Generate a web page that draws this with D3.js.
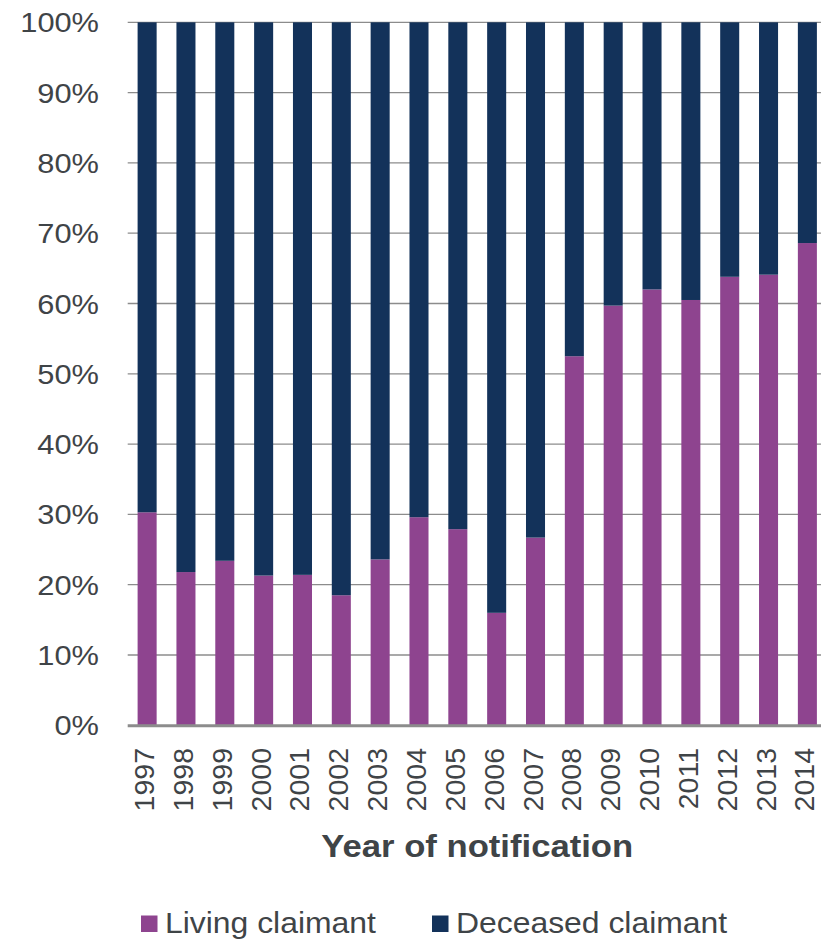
<!DOCTYPE html>
<html>
<head>
<meta charset="utf-8">
<script src="https://cdn.jsdelivr.net/npm/d3@7"></script>
<style>
  body { margin: 0; background: #fff; }
  svg { display: block; }
  text { font-family: "Liberation Sans", Arial, sans-serif; fill: #3f4447; }
</style>
</head>
<body>
<svg width="821" height="941"></svg>
<script>
// data (percent of claims)
var years = ['1997','1998','1999','2000','2001','2002','2003','2004','2005',
             '2006','2007','2008','2009','2010','2011','2012','2013','2014'];
var living = [30.3, 21.8, 23.4, 21.3, 21.4, 18.5, 23.6, 29.6, 27.9,
              16.0, 26.7, 52.5, 59.7, 62.0, 60.5, 63.8, 64.1, 68.6];
var deceased = [69.7, 78.2, 76.6, 78.7, 78.6, 81.5, 76.4, 70.4, 72.1,
                84.0, 73.3, 47.5, 40.3, 38.0, 39.5, 36.2, 35.9, 31.4];
var yTicks = [0, 10, 20, 30, 40, 50, 60, 70, 80, 90, 100];
var seriesNames = ['Living claimant', 'Deceased claimant'];
var colors = ['#8e448f', '#13325a'];

var stretch = 1.1; // text in the original is a bit wide

var svg = d3.select('svg');
var plotLeft = 127.7, plotRight = 826.8, plotTop = 22.3, plotBottom = 725.3;

var x = d3.scaleBand()
  .domain(years)
  .range([plotLeft, plotRight])
  .paddingInner(0.51)
  .paddingOuter(0.255);
var y = d3.scaleLinear().domain([0, 100]).range([plotBottom, plotTop]);

// gridlines
svg.append('g')
  .selectAll('line')
  .data(yTicks.filter(function(d){ return d > 0; }))
  .enter().append('line')
  .attr('x1', plotLeft).attr('x2', plotRight)
  .attr('y1', function(d){ return y(d); })
  .attr('y2', function(d){ return y(d); })
  .attr('stroke', '#8c8c8c')
  .attr('stroke-width', 1.3);

// y tick labels
svg.append('g')
  .selectAll('text')
  .data(yTicks)
  .enter().append('text')
  .attr('text-anchor', 'end')
  .attr('font-size', 28)
  .attr('transform', function(d){ return 'translate(99,' + (y(d) + 10) + ') scale(' + stretch + ',1)'; })
  .text(function(d){ return d + '%'; });

// stacked bars
var rows = years.map(function(yr, i){ return {year: yr, living: living[i], deceased: deceased[i]}; });
var stack = d3.stack().keys(['living', 'deceased']);
var layers = stack(rows);

svg.append('g')
  .selectAll('g')
  .data(layers)
  .enter().append('g')
  .attr('fill', function(d, i){ return colors[i]; })
  .selectAll('rect')
  .data(function(d){ return d; })
  .enter().append('rect')
  .attr('x', function(d){ return x(d.data.year); })
  .attr('width', x.bandwidth())
  .attr('y', function(d){ return y(d[1]); })
  .attr('height', function(d){ return y(d[0]) - y(d[1]); });

// baseline
svg.append('line')
  .attr('x1', plotLeft).attr('x2', plotRight)
  .attr('y1', plotBottom + 0.5).attr('y2', plotBottom + 0.5)
  .attr('stroke', '#8c8c8c')
  .attr('stroke-width', 3);

// x labels, rotated
svg.append('g')
  .selectAll('text')
  .data(years)
  .enter().append('text')
  .attr('text-anchor', 'end')
  .attr('font-size', 28.5)
  .attr('transform', function(d){
    return 'translate(' + (x(d) + x.bandwidth() / 2 + 7) + ',748) rotate(-90)';
  })
  .text(function(d){ return d; });

// axis title
svg.append('text')
  .attr('text-anchor', 'middle')
  .attr('font-size', 31.5)
  .attr('font-weight', 'bold')
  .attr('transform', 'translate(' + ((plotLeft + plotRight) / 2) + ',856.7) scale(' + stretch + ',1)')
  .text('Year of notification');

// legend
var legendX = [141, 432];
var legend = svg.append('g')
  .selectAll('g')
  .data(seriesNames)
  .enter().append('g')
  .attr('transform', function(d, i){ return 'translate(' + legendX[i] + ',0)'; });
legend.append('rect')
  .attr('x', 0).attr('y', 915.5)
  .attr('width', 16.5).attr('height', 16.5)
  .attr('fill', function(d, i){ return colors[i]; });
legend.append('text')
  .attr('font-size', 29)
  .attr('transform', 'translate(24,932.7) scale(' + stretch + ',1)')
  .text(function(d){ return d; });
</script>
</body>
</html>
